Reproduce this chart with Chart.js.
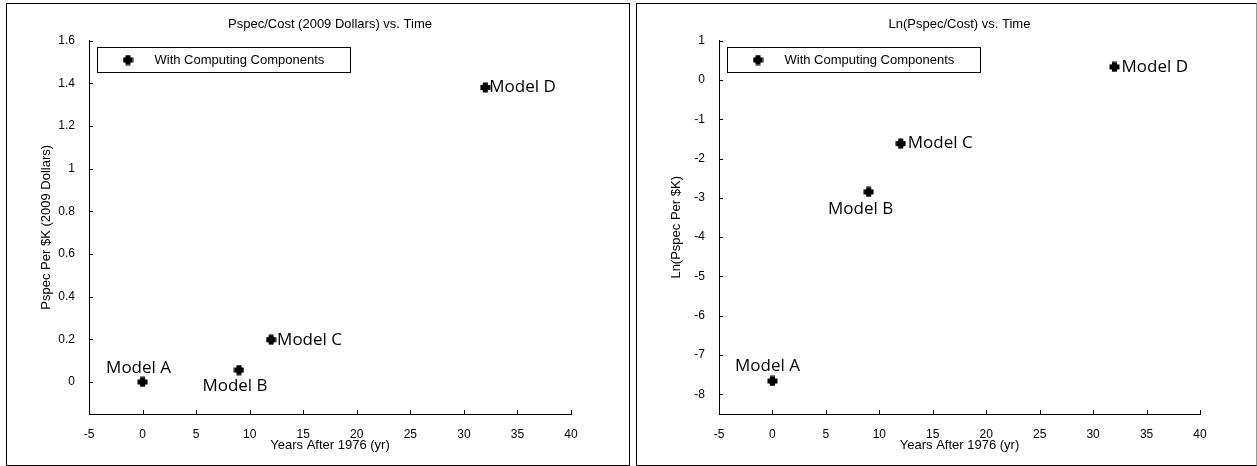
<!DOCTYPE html>
<html>
<head>
<meta charset="utf-8">
<script src="https://cdn.jsdelivr.net/npm/chart.js@4.4.0/dist/chart.umd.min.js"></script>
<style>
  body { margin: 0; background: #fff; width: 1257px; height: 466px; overflow: hidden; position: relative; }
  .panel { position: absolute; top: 3px; height: 463px; border: 1px solid #000; box-sizing: border-box; background: #fff; }
  #panelL { left: 6px; width: 624px; }
  #panelR { left: 636px; width: 621px; border-right-color: #999; }
  canvas { display: block; }
</style>
</head>
<body>
<div class="panel" id="panelL"><canvas id="chartL" width="622" height="461"></canvas></div>
<div class="panel" id="panelR"><canvas id="chartR" width="619" height="461"></canvas></div>
<script>
// valores
const MODELS = ['Model A', 'Model B', 'Model C', 'Model D'];
const YEARS = [0, 9, 12, 32];
const PSPEC_PER_K = [0.0, 0.056, 0.198, 1.38];
const LN_PSPEC_PER_K = [-7.66, -2.85, -1.62, 0.33];
const SERIES_LABEL = 'With Computing Components';

const X_TICKS = [-5, 0, 5, 10, 15, 20, 25, 30, 35, 40];
const Y_TICKS_L = [0, 0.2, 0.4, 0.6, 0.8, 1, 1.2, 1.4, 1.6];
const Y_TICKS_R = [-8, -7, -6, -5, -4, -3, -2, -1, 0, 1];

const FONT = 'Liberation Sans, Arial, sans-serif';

// marcador em forma de "+" grosso
function makeMarker() {
    const c = document.createElement('canvas');
    c.width = 11; c.height = 11;
    const g = c.getContext('2d');
    g.fillStyle = '#000';
    g.beginPath(); g.arc(5.5, 5.5, 3.8, 0, Math.PI * 2); g.fill();
    g.fillRect(0.5, 3, 10, 5);
    g.fillRect(3, 0.5, 5, 10);
    return c;
}
const MARKER = makeMarker();

// ticks para dentro (estilo MATLAB)
const inwardTicks = {
    id: 'inwardTicks',
    afterDraw(chart) {
        const ctx = chart.ctx, xs = chart.scales.x, ys = chart.scales.y, area = chart.chartArea;
        ctx.save();
        ctx.strokeStyle = '#000';
        ctx.lineWidth = 1;
        ctx.beginPath();
        xs.ticks.forEach(t => {
            const px = Math.round(xs.getPixelForValue(t.value)) + 0.5;
            ctx.moveTo(px, area.bottom); ctx.lineTo(px, area.bottom - 4);
        });
        ys.ticks.forEach(t => {
            const py = Math.round(ys.getPixelForValue(t.value)) + 0.5;
            ctx.moveTo(area.left, py); ctx.lineTo(area.left + 4, py);
        });
        ctx.stroke();
        ctx.restore();
    }
};

// legenda dentro do gráfico, com caixa
const boxLegend = {
    id: 'boxLegend',
    afterDraw(chart) {
        const ctx = chart.ctx, area = chart.chartArea;
        const x = Math.round(area.left + 8) + 0.5, y = Math.round(area.top + 6) + 0.5;
        ctx.save();
        ctx.fillStyle = '#fff';
        ctx.strokeStyle = '#000';
        ctx.lineWidth = 1;
        ctx.fillRect(x, y, 253, 25);
        ctx.strokeRect(x, y, 253, 25);
        ctx.drawImage(MARKER, x + 25, y + 7);
        ctx.fillStyle = '#000';
        ctx.font = '13px ' + FONT;
        ctx.textBaseline = 'middle';
        ctx.textAlign = 'left';
        ctx.fillText(chart.data.datasets[0].label, x + 57, y + 13);
        ctx.restore();
    }
};

// rótulos "Model X" ao lado de cada ponto
function pointLabels(placement) {
    return {
        id: 'pointLabels',
        afterDatasetsDraw(chart) {
            const ctx = chart.ctx;
            const meta = chart.getDatasetMeta(0);
            ctx.save();
            ctx.font = '17px "Open Sans", sans-serif';
            ctx.fillStyle = '#000';
            ctx.textBaseline = 'middle';
            meta.data.forEach((pt, i) => {
                const p = placement[i];
                ctx.textAlign = p.align;
                ctx.fillText(MODELS[i], pt.x + p.dx, pt.y + p.dy);
            });
            ctx.restore();
        }
    };
}

function buildChart(canvasId, opts) {
    const points = YEARS.map((yr, i) => ({ x: yr, y: opts.values[i] }));
    return new Chart(document.getElementById(canvasId), {
        type: 'scatter',
        data: {
            datasets: [{
                label: SERIES_LABEL,
                data: points,
                pointStyle: MARKER,
                backgroundColor: '#000',
                borderColor: '#000'
            }]
        },
        options: {
            responsive: false,
            animation: false,
            events: [],
            layout: { padding: { top: 0, left: 0, bottom: 0, right: opts.padRight } },
            scales: {
                x: {
                    type: 'linear',
                    min: -5, max: 40,
                    afterBuildTicks: s => { s.ticks = X_TICKS.map(v => ({ value: v })); },
                    afterFit: s => { s.height = 51; },
                    grid: { display: false },
                    border: { display: true, color: '#000', width: 1 },
                    ticks: { color: '#000', font: { family: FONT, size: 12 }, padding: 5, autoSkip: false, maxRotation: 0 },
                    title: { display: true, text: 'Years After 1976 (yr)', color: '#000', font: { family: FONT, size: 13 }, padding: { top: 0, bottom: 12 } }
                },
                y: {
                    type: 'linear',
                    min: opts.yMin, max: opts.yMax,
                    afterBuildTicks: s => { s.ticks = opts.yTicks.map(v => ({ value: v })); },
                    afterFit: s => { s.width = 82; },
                    grid: { display: false },
                    border: { display: true, color: '#000', width: 1 },
                    ticks: { color: '#000', font: { family: FONT, size: 12 }, padding: 6, callback: v => String(v) },
                    title: { display: true, text: opts.yTitle, color: '#000', font: { family: FONT, size: 13 }, padding: { top: 32, bottom: 0 } }
                }
            },
            plugins: {
                legend: { display: false },
                tooltip: { enabled: false },
                title: {
                    display: true,
                    text: opts.title,
                    color: '#000',
                    fullSize: false,
                    font: { family: FONT, size: 13, weight: 'normal' },
                    padding: { top: 13, bottom: 8 }
                }
            }
        },
        plugins: [inwardTicks, boxLegend, pointLabels(opts.placement)]
    });
}

buildChart('chartL', {
    values: PSPEC_PER_K,
    yMin: -0.15, yMax: 1.6,
    yTicks: Y_TICKS_L,
    padRight: 58,
    title: 'Pspec/Cost (2009 Dollars) vs. Time',
    yTitle: 'Pspec Per $K (2009 Dollars)',
    placement: [
        { dx: -4, dy: -14, align: 'center' },
        { dx: -4, dy: 16, align: 'center' },
        { dx: 6, dy: 0, align: 'left' },
        { dx: 4, dy: 0, align: 'left' }
    ]
});

buildChart('chartR', {
    values: LN_PSPEC_PER_K,
    yMin: -8.5, yMax: 1,
    yTicks: Y_TICKS_R,
    padRight: 56,
    title: 'Ln(Pspec/Cost) vs. Time',
    yTitle: 'Ln(Pspec Per $K)',
    placement: [
        { dx: -5, dy: -15, align: 'center' },
        { dx: -8, dy: 17, align: 'center' },
        { dx: 7, dy: 0, align: 'left' },
        { dx: 7, dy: 0, align: 'left' }
    ]
});
</script>
</body>
</html>
